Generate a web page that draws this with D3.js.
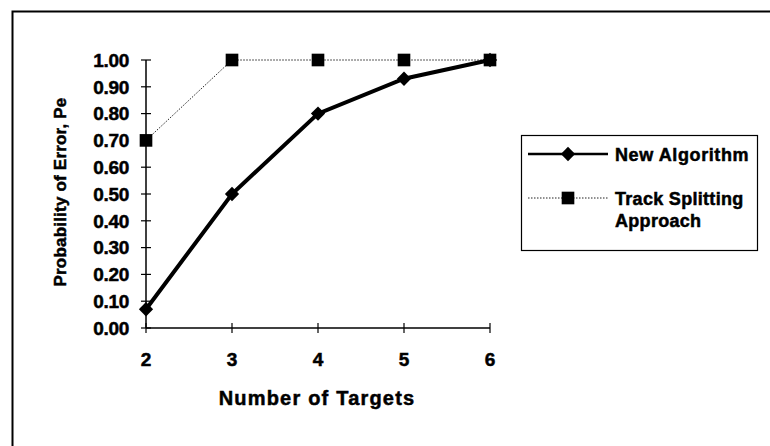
<!DOCTYPE html>
<html lang="en">
<head>
    <meta charset="UTF-8">
    <title>Probability of Error vs Number of Targets</title>
    <script src="https://d3js.org/d3.v7.min.js"></script>
    <style>
        body { margin: 0; background: #fff; }
        text { font-family: "Liberation Sans", Arial, sans-serif; font-weight: bold; fill: #000; stroke: #000; stroke-width: 0.5px; }
    </style>
</head>
<body>

<script>
// data
const targets = [2, 3, 4, 5, 6];
const newAlgorithm = [0.07, 0.50, 0.80, 0.93, 1.00];
const trackSplitting = [0.70, 1.00, 1.00, 1.00, 1.00];
const yTicks = [0, 0.1, 0.2, 0.3, 0.4, 0.5, 0.6, 0.7, 0.8, 0.9, 1.0];
const seriesNames = ["New  Algorithm", "Track Splitting"];

const width = 770, height = 446;

const svg = d3.select("body").append("svg")
    .attr("width", width)
    .attr("height", height);

// outer frame (only top and left edges are visible in the photo)
svg.append("rect")
    .attr("x", 12.5).attr("y", 11.5)
    .attr("width", 900).attr("height", 600)
    .attr("fill", "none").attr("stroke", "#000").attr("stroke-width", 2);

const x = d3.scaleLinear().domain([2, 6]).range([146, 490]);
const y = d3.scaleLinear().domain([0, 1]).range([328, 60]);

// y axis
svg.append("line")
    .attr("x1", x(2)).attr("x2", x(2))
    .attr("y1", y(0)).attr("y2", y(1))
    .attr("stroke", "#000").attr("stroke-width", 1.5);

svg.append("g").selectAll("line")
    .data(yTicks)
    .join("line")
    .attr("x1", x(2) - 5).attr("x2", x(2) + 5)
    .attr("y1", d => y(d)).attr("y2", d => y(d))
    .attr("stroke", "#000").attr("stroke-width", 1.2);

svg.append("g").selectAll("text")
    .data(yTicks)
    .join("text")
    .attr("x", 129)
    .attr("y", d => y(d))
    .attr("dy", "0.36em")
    .attr("text-anchor", "end")
    .attr("font-size", 19)
    .attr("letter-spacing", -0.3)
    .text(d => d3.format(".2f")(d));

// x axis
svg.append("line")
    .attr("x1", x(2)).attr("x2", x(6))
    .attr("y1", y(0)).attr("y2", y(0))
    .attr("stroke", "#000").attr("stroke-width", 1.5);

svg.append("g").selectAll("line")
    .data(targets)
    .join("line")
    .attr("x1", d => x(d)).attr("x2", d => x(d))
    .attr("y1", y(0) - 5).attr("y2", y(0) + 5)
    .attr("stroke", "#000").attr("stroke-width", 1.2);

svg.append("g").selectAll("text")
    .data(targets)
    .join("text")
    .attr("x", d => x(d))
    .attr("y", 366)
    .attr("text-anchor", "middle")
    .attr("font-size", 19)
    .text(d => d);

// axis titles
svg.append("text")
    .attr("transform", "translate(66,192) rotate(-90)")
    .attr("text-anchor", "middle")
    .attr("font-size", 17)
    .attr("letter-spacing", 0.2)
    .text("Probability of Error, Pe");

svg.append("text")
    .attr("x", 317).attr("y", 405)
    .attr("text-anchor", "middle")
    .attr("font-size", 20)
    .attr("letter-spacing", 1.2)
    .text("Number of Targets");

// series
const line = d3.line()
    .x((d, i) => x(targets[i]))
    .y(d => y(d));

svg.append("path")
    .datum(trackSplitting)
    .attr("d", line)
    .attr("fill", "none")
    .attr("stroke", "#222")
    .attr("stroke-width", 1)
    .attr("stroke-dasharray", "1.5,1.5");

svg.append("path")
    .datum(newAlgorithm)
    .attr("d", line)
    .attr("fill", "none")
    .attr("stroke", "#000")
    .attr("stroke-width", 4);

const square = d3.symbol().type(d3.symbolSquare).size(160);
const diamond = d3.symbol().type(d3.symbolDiamond2).size(130);

svg.append("g").selectAll("path")
    .data(trackSplitting)
    .join("path")
    .attr("d", square)
    .attr("transform", (d, i) => `translate(${x(targets[i])},${y(d)})`)
    .attr("fill", "#000");

svg.append("g").selectAll("path")
    .data(newAlgorithm)
    .join("path")
    .attr("d", diamond)
    .attr("transform", (d, i) => `translate(${x(targets[i])},${y(d)})`)
    .attr("fill", "#000");

// legend
const legend = svg.append("g");
legend.append("rect")
    .attr("x", 521.5).attr("y", 135.5)
    .attr("width", 236).attr("height", 115)
    .attr("fill", "#fff").attr("stroke", "#000").attr("stroke-width", 1.2);

legend.append("line")
    .attr("x1", 528).attr("x2", 608).attr("y1", 154).attr("y2", 154)
    .attr("stroke", "#000").attr("stroke-width", 2.5);
legend.append("path")
    .attr("d", diamond)
    .attr("transform", "translate(568,154)")
    .attr("fill", "#000");
legend.append("text")
    .attr("x", 615).attr("y", 161)
    .attr("font-size", 18)
    .attr("letter-spacing", 0.6)
    .text(seriesNames[0]);

legend.append("line")
    .attr("x1", 528).attr("x2", 608).attr("y1", 198).attr("y2", 198)
    .attr("stroke", "#222").attr("stroke-width", 1)
    .attr("stroke-dasharray", "1.5,1.5");
legend.append("path")
    .attr("d", square)
    .attr("transform", "translate(568,198)")
    .attr("fill", "#000");
legend.append("text")
    .attr("x", 615).attr("y", 205)
    .attr("font-size", 18)
    .attr("letter-spacing", 0.3)
    .text(seriesNames[1]);
legend.append("text")
    .attr("x", 615).attr("y", 227)
    .attr("font-size", 18)
    .attr("letter-spacing", 0.3)
    .text("Approach");
</script>

</body>
</html>
